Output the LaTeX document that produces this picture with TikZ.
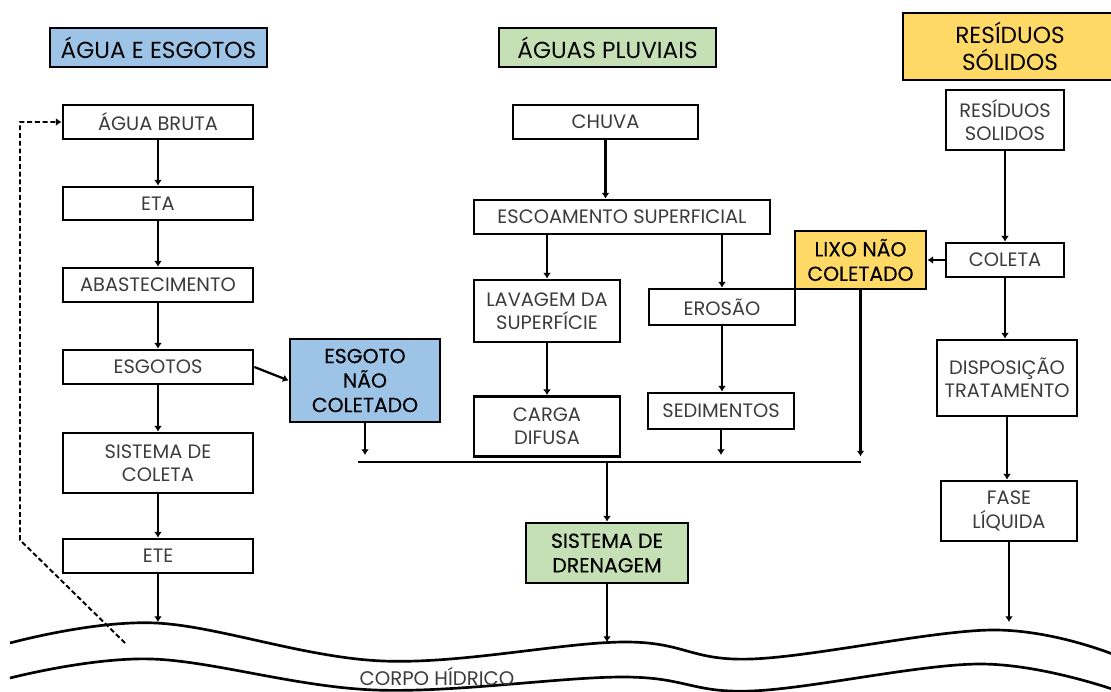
\documentclass[tikz,border=0pt]{standalone}
\usepackage{fontspec}
\setmainfont{Poppins}
\newfontfamily\heavyfont{Poppins}[FakeBold=0.3]
\usepackage{xcolor}
\usetikzlibrary{arrows.meta}
\definecolor{blueA}{HTML}{9DC3E6}
\definecolor{greenB}{HTML}{C5E0B4}
\definecolor{yellowC}{HTML}{FFD966}
\definecolor{txtgray}{HTML}{3C3C3C}

\begin{document}
\begin{tikzpicture}[
  x=0.025cm, y=-0.025cm,
  box/.style={draw, line width=2pt, fill=white, align=center, inner sep=1pt, text=txtgray, font=\fontsize{13.8}{16.5}\selectfont},
  head/.style={box, text=black, font=\fontsize{16.5}{19}\selectfont},
  hot/.style={box, text=black, font=\heavyfont\fontsize{14.5}{17.4}\selectfont},
  arr/.style={-{Latex[length=4pt, width=5.5pt]}, line width=1.6pt},
  bus/.style={line width=1.6pt},
  wave/.style={line width=1.9pt},
  back/.style={-{Latex[length=4pt, width=5.5pt]}, line width=1.4pt, dash pattern=on 3.5pt off 2pt}
]
  \def\colA{158}
  \def\colR{1005}

  \useasboundingbox (0,0) rectangle (1111,691);

  \node[head, fill=blueA, minimum width=5.425cm, minimum height=0.975cm] (hdrAgua) at (158.5,47.5) {ÁGUA E ESGOTOS};
  \node[head, fill=greenB, minimum width=5.425cm, minimum height=0.975cm] (hdrPluv) at (607.5,47.5) {ÁGUAS PLUVIAIS};
  \node[head, fill=yellowC, minimum width=5.35cm, minimum height=1.675cm] (hdrRes) at (1010,46.5) {RESÍDUOS\\SÓLIDOS};

  \node[box, minimum width=4.75cm, minimum height=0.85cm] (bruta) at (\colA,122) {ÁGUA BRUTA};
  \node[box, minimum width=4.75cm, minimum height=0.825cm] (eta) at (\colA,203.5) {ETA};
  \node[box, minimum width=4.75cm, minimum height=0.85cm] (abast) at (\colA,285) {ABASTECIMENTO};
  \node[box, minimum width=4.75cm, minimum height=0.85cm] (esgotos) at (\colA,367) {ESGOTOS};
  \node[box, minimum width=4.75cm, minimum height=1.5cm] (sistColeta) at (\colA,463) {SISTEMA DE\\COLETA};
  \node[box, minimum width=4.75cm, minimum height=0.85cm] (ete) at (\colA,556) {ETE};
  \node[hot, fill=blueA, minimum width=3.75cm, minimum height=2.075cm] (esgNc) at (365,380.5) {ESGOTO\\NÃO\\COLETADO};

  \node[box, minimum width=4.625cm, minimum height=0.85cm] (chuva) at (605.5,122) {CHUVA};
  \node[box, minimum width=7.4cm, minimum height=0.85cm] (escoam) at (622,217) {ESCOAMENTO SUPERFICIAL};
  \node[box, minimum width=3.65cm, minimum height=1.55cm] (lavagem) at (547,311) {LAVAGEM DA\\SUPERFÍCIE};
  \node[box, minimum width=3.65cm, minimum height=0.9cm] (erosao) at (722,307) {EROSÃO};
  \node[box, minimum width=3.65cm, minimum height=1.5cm] (carga) at (547,426.5) {CARGA\\DIFUSA};
  \node[box, minimum width=3.65cm, minimum height=0.9cm] (sedim) at (721,411) {SEDIMENTOS};
  \node[hot, fill=greenB, minimum width=4.05cm, minimum height=1.5cm] (drenag) at (607,553) {SISTEMA DE\\DRENAGEM};
  \node[hot, fill=yellowC, minimum width=3.275cm, minimum height=1.45cm] (lixo) at (860.5,260) {LIXO NÃO\\COLETADO};

  \node[box, minimum width=2.95cm, minimum height=1.5cm] (residuos) at (\colR,120) {RESÍDUOS\\SOLIDOS};
  \node[box, minimum width=2.95cm, minimum height=0.85cm] (coleta) at (\colR,260) {COLETA};
  \node[box, minimum width=3.5cm, minimum height=1.9cm] (dispos) at (1007,378) {DISPOSIÇÃO\\TRATAMENTO};
  \node[box, minimum width=3.4cm, minimum height=1.5cm] (fase) at (1009,511) {FASE\\LÍQUIDA};

  \coordinate (busL) at (358,462);
  \coordinate (busR) at (860.5,462);
  \coordinate (seaA) at (\colA,622);
  \coordinate (seaB) at (607,642);
  \coordinate (seaC) at (1009,622);
  \coordinate (backStart) at (125,643);
  \coordinate (backBend) at (20,540);

  \draw[wave] plot[smooth, tension=0.6] coordinates {(10,643) (156,623) (383,661) (624,642) (751,659) (992,630) (1115,655)};
  \draw[wave] plot[smooth, tension=0.6] coordinates {(10,678) (152,659) (375,690) (624,677) (751,691) (980,664) (1115,690)};
  \node[text=txtgray, font=\fontsize{14}{15}\selectfont, inner sep=0pt] (corpo) at (437,676) {CORPO HÍDRICO};

  \foreach \a/\b in {bruta/eta, eta/abast, abast/esgotos, esgotos/sistColeta, sistColeta/ete}
    \draw[arr] (\a) -- (\b);
  \draw[arr] (ete) -- (seaA);
  \draw[arr] (esgotos.east) -- (esgNc.west);
  \draw[arr, shorten >=5pt] (esgNc.south) -- (esgNc.south |- busL);
  \draw[bus] (busL) -- (busR);

  \draw[arr] (chuva.south) -- (chuva.south |- escoam.north);
  \draw[arr] (lavagem.north |- escoam.south) -- (lavagem.north);
  \draw[arr] (erosao.north |- escoam.south) -- (erosao.north);
  \draw[arr] (lavagem) -- (carga);
  \draw[arr] (erosao.south) -- (erosao.south |- sedim.north);
  \draw[arr, shorten >=5pt] (sedim.south) -- (sedim.south |- busL);
  \draw[arr, shorten >=4pt] (lixo.south) -- (busR);
  \draw[arr] (drenag.north |- busL) -- (drenag.north);
  \draw[arr] (drenag) -- (seaB);

  \draw[arr] (residuos) -- (coleta);
  \draw[arr] (coleta.west) -- (lixo.east);
  \draw[arr] (coleta.south) -- (coleta.south |- dispos.north);
  \draw[arr] (dispos.south) -- (dispos.south |- fase.north);
  \draw[arr] (fase) -- (seaC);

  \draw[back] (backStart) -- (backBend) |- (bruta.west);
\end{tikzpicture}
\end{document}
